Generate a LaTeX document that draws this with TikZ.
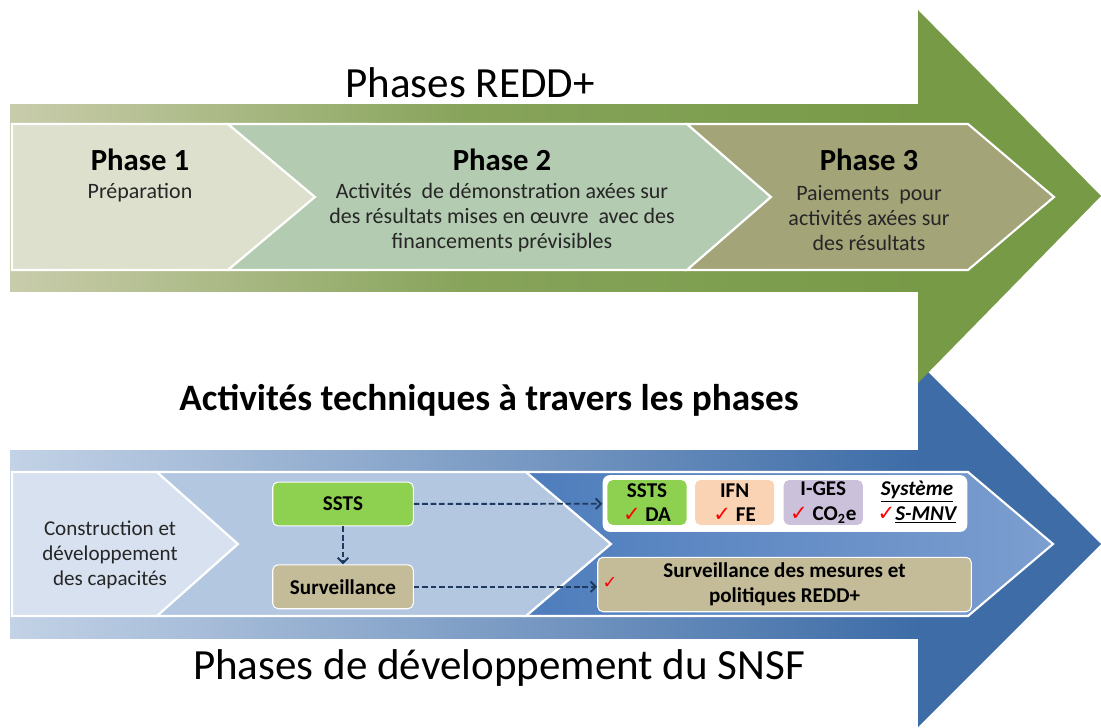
\documentclass[tikz,border=0pt]{standalone}
\usepackage{fontspec}
\setmainfont{Carlito}
\newfontfamily\symfont{DejaVu Sans}
\usetikzlibrary{positioning,arrows.meta}

\definecolor{greenArrow}{HTML}{779A47}
\definecolor{greenLight}{HTML}{C9CCAB}
\definecolor{blueArrow}{HTML}{3D6CA7}
\definecolor{blueLight}{HTML}{C3D2E6}
\definecolor{phaseOne}{HTML}{DDE0CC}
\definecolor{phaseTwo}{HTML}{B3CBB0}
\definecolor{phaseThree}{HTML}{A3A478}
\definecolor{devOne}{HTML}{D7E1EF}
\definecolor{devTwo}{HTML}{B3C7E1}
\definecolor{devThreeL}{HTML}{4E7DBC}
\definecolor{devThreeR}{HTML}{7C9ED0}
\definecolor{boxGreen}{HTML}{8ED04F}
\definecolor{boxTan}{HTML}{C4BB98}
\definecolor{boxPeach}{HTML}{FAD3B4}
\definecolor{boxLilac}{HTML}{CCC1DB}
\definecolor{dashNavy}{HTML}{1F3A5F}
\definecolor{textGray}{HTML}{262626}

\newcommand{\redcheck}{{\symfont\color{red}\char"2713}}

\begin{document}
\begin{tikzpicture}[x=0.02cm,y=-0.02cm,align=center,
	phasetitle/.style={font=\fontsize{17.5}{21}\selectfont\bfseries},
	phasetext/.style={font=\fontsize{12.5}{14.2}\selectfont,text=textGray},
	captext/.style={font=\fontsize{12}{14.4}\selectfont,text=textGray},
	bigtitle/.style={font=\fontsize{24.5}{29}\selectfont,anchor=base},
	techbox/.style={rectangle,rounded corners=3pt,draw=white,line width=0.6pt,font=\fontsize{12}{14}\selectfont\bfseries,minimum width=80pt,minimum height=25pt},
	smallbox/.style={rectangle,rounded corners=3pt,inner sep=0pt,font=\fontsize{12}{14}\selectfont\bfseries,minimum width=45pt,minimum height=25.5pt},
	dasharrow/.style={-{Straight Barb[length=3pt,width=6pt]},dashNavy,line width=1.1pt,dash pattern=on 3.2pt off 1.6pt},
	chevron/.style={draw=white,line width=1.2pt}]

	\useasboundingbox (0,0) rectangle (1101,727);

	% SNSF arrow
	\fill[blueArrow] (918,362) -- (1101,544) -- (918,727) -- cycle;
	\shade[left color=blueLight,right color=blueArrow] (10,450) rectangle (920,638);

	% REDD+ arrow
	\fill[greenArrow] (918,10) -- (1101,196) -- (918,383) -- cycle;
	\shade[left color=greenLight,right color=greenArrow,middle color=greenArrow!80!greenLight] (10,104) rectangle (920,291);

	% phases REDD+
	\filldraw[chevron,fill=phaseOne] (12,124) -- (228,124) -- (315,197) -- (228,270) -- (12,270) -- cycle;
	\filldraw[chevron,fill=phaseTwo] (228,124) -- (687,124) -- (771,197) -- (687,270) -- (228,270) -- (315,197) -- cycle;
	\filldraw[chevron,fill=phaseThree] (687,124) -- (968,124) -- (1054,197) -- (968,270) -- (687,270) -- (771,197) -- cycle;

	% phases SNSF
	\filldraw[chevron,fill=devOne] (12,472) -- (157,472) -- (238,544) -- (157,616) -- (12,616) -- cycle;
	\filldraw[chevron,fill=devTwo] (157,472) -- (526,472) -- (611,544) -- (526,616) -- (157,616) -- (238,544) -- cycle;
	\filldraw[chevron,left color=devThreeL,right color=devThreeR] (526,472) -- (968,472) -- (1053,544) -- (968,616) -- (526,616) -- (611,544) -- cycle;

	\node[bigtitle] (tRedd) at (470,97) {Phases REDD+};

	\node[phasetitle] (tPhase1) at (140,160) {Phase 1};
		\node[phasetext] (dPhase1) at (140,193) {Préparation};
	\node[phasetitle] (tPhase2) at (502,160) {Phase 2};
		\node[phasetext] (dPhase2) at (502,218) {Activités~ de démonstration axées sur\\des résultats mises en œuvre~ avec des\\financements prévisibles};
	\node[phasetitle] (tPhase3) at (869,160) {Phase 3};
		\node[phasetext] (dPhase3) at (869,218) {Paiements~ pour\\activités axées sur\\des résultats};

	\node[font=\fontsize{21.2}{25}\selectfont\bfseries,anchor=base] (tTech) at (489,410) {Activités techniques à travers les phases};

	\node[bigtitle] (tSnsf) at (499,679) {Phases de développement du SNSF};

	\node[captext] (lCapacity) at (110,555) {Construction et\\développement\\des capacités};

	\node[techbox,fill=boxGreen] (lSSTS) at (343,504) {SSTS};
		\node[techbox,fill=boxTan,below=21.5pt of lSSTS] (lSurv) {Surveillance};
			\path[dasharrow] (lSSTS) edge (lSurv);

	\node[rectangle,rounded corners=4pt,fill=white,minimum width=207.5pt,minimum height=32.3pt] (rSystem) at (785,503.5) {};
		\node[smallbox,fill=boxGreen] (rDA) at (647,502.5) {SSTS\\\redcheck~DA};
		\node[smallbox,fill=boxPeach,right=4.5pt of rDA] (rFE) {IFN\\\redcheck~FE};
		\node[smallbox,fill=boxLilac,right=5pt of rFE] (rCO2) {I-GES\\\redcheck~CO\textsubscript{2}e};
		\node[smallbox] (rSMNV) at (917,502.5) {\textit{\underline{Système}}\\\redcheck\textit{\underline{S-MNV}}};
			\path[dasharrow] (lSSTS) edge (rSystem);

	\node[techbox,fill=boxTan,minimum width=212.6pt,minimum height=31pt] (rMeasures) at (784.5,584.5) {Surveillance des mesures et\\politiques REDD+};
		\node (rMeasCheck) at (610,583) {\redcheck};
			\path[dasharrow] (lSurv) edge (rMeasures.west |- lSurv);
\end{tikzpicture}
\end{document}
